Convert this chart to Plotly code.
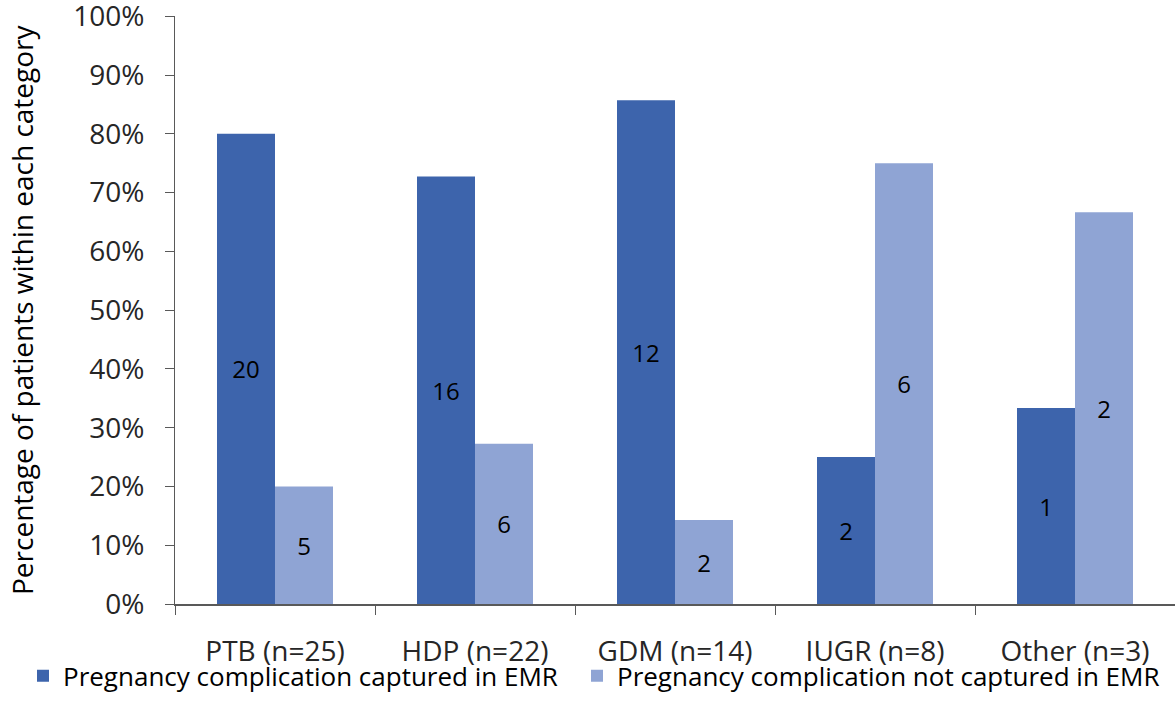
import plotly.graph_objects as go

# Patients per complication category and how many were captured in the EMR
categories = ["PTB (n=25)", "HDP (n=22)", "GDM (n=14)", "IUGR (n=8)", "Other (n=3)"]
totals = [25, 22, 14, 8, 3]
captured = [20, 16, 12, 2, 1]
not_captured = [5, 6, 2, 6, 2]

# y-axis ticks, 0% to 100%
y_ticks = [i / 10 for i in range(11)]
y_tick_labels = [f"{i * 10}%" for i in range(11)]

pct_captured = [c / t for c, t in zip(captured, totals)]
pct_not_captured = [n / t for n, t in zip(not_captured, totals)]

FONT = "Open Sans, Calibri, Carlito, sans-serif"
DARK = "#3D64AC"
LIGHT = "#8FA4D4"
AXIS = "#595959"

fig = go.Figure()
fig.add_trace(go.Bar(
    x=categories, y=pct_captured, name="Pregnancy complication captured in EMR",
    marker=dict(color=DARK, line=dict(width=0)),
    text=[str(v) for v in captured], textposition="inside", insidetextanchor="middle",
    textangle=0, constraintext="none",
    textfont=dict(family=FONT, size=24, color="#000000"),
    legend="legend",
))
fig.add_trace(go.Bar(
    x=categories, y=pct_not_captured, name="Pregnancy complication not captured in EMR",
    marker=dict(color=LIGHT, line=dict(width=0)),
    text=[str(v) for v in not_captured], textposition="inside", insidetextanchor="middle",
    textangle=0, constraintext="none",
    textfont=dict(family=FONT, size=24, color="#000000"),
    legend="legend2",
))

legend_common = dict(
    orientation="h", xanchor="left", y=-0.122, yanchor="middle",
    font=dict(family=FONT, size=26, color="#000000"),
    bgcolor="rgba(0,0,0,0)", itemsizing="constant",
)

fig.update_layout(
    width=1175, height=723,
    margin=dict(l=175, r=0, t=16, b=119, autoexpand=False),
    paper_bgcolor="white", plot_bgcolor="white",
    barmode="group", bargap=0.42, bargroupgap=0,
    font=dict(family=FONT, color="#262626"),
    showlegend=True,
    legend=dict(x=-0.152, **legend_common),
    legend2=dict(x=0.402, **legend_common),
    xaxis=dict(
        showline=True, linecolor=AXIS, linewidth=2,
        ticks="outside", tickson="boundaries", ticklen=9, tickcolor=AXIS, tickwidth=1,
        tickfont=dict(family=FONT, size=28, color="#262626"),
        ticklabelstandoff=21, showgrid=False, ticklabeloverflow="allow",
    ),
    yaxis=dict(
        range=[0, 1.0005], tickmode="array", tickvals=y_ticks, ticktext=y_tick_labels,
        showline=True, linecolor=AXIS, linewidth=1,
        ticks="outside", ticklen=9, tickcolor=AXIS, tickwidth=1,
        tickfont=dict(family=FONT, size=28, color="#262626"),
        ticklabelstandoff=15, showgrid=False, zeroline=False,
        ticklabeloverflow="allow",
    ),
    annotations=[dict(
        text="Percentage of patients within each category",
        xref="paper", yref="paper", x=-0.153, y=0.5,
        xanchor="center", yanchor="middle", textangle=-90, showarrow=False,
        font=dict(family=FONT, size=28, color="#000000"),
    )],
)

fig.write_html("out.html")
